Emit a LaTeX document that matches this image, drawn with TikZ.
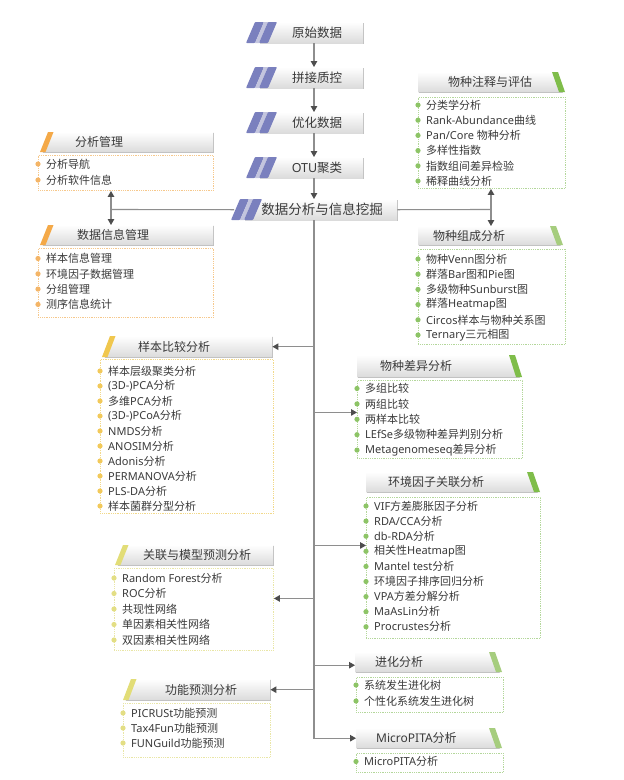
\documentclass[tikz,border=0pt]{standalone}
\usepackage{fontspec}
\setmainfont{Noto Sans}
\newfontfamily\latf{Noto Sans}
\newfontfamily\cjkf{Noto Sans CJK SC}
\XeTeXinterchartokenstate=1
\newXeTeXintercharclass\cjkcls
\newcount\cjkcnt
\cjkcnt="4E00
\loop
  \XeTeXcharclass\cjkcnt=\cjkcls
  \ifnum\cjkcnt<"9FFF \advance\cjkcnt by 1
\repeat
\XeTeXinterchartoks 0 \cjkcls = {\cjkf}
\XeTeXinterchartoks 4095 \cjkcls = {\cjkf}
\XeTeXinterchartoks \cjkcls 0 = {\latf}
\usetikzlibrary{arrows.meta,shadows,calc}
\definecolor{lnc}{HTML}{8E8E8E}
\definecolor{tipc}{HTML}{4D4D4D}
\definecolor{txt}{HTML}{3A3A3A}
\definecolor{blu}{HTML}{7A80BE}
\definecolor{bluL}{HTML}{C3C5DE}
\definecolor{org}{HTML}{F4A948}
\definecolor{orgL}{HTML}{F6C88C}
\definecolor{orgB}{HTML}{F4B567}
\definecolor{gld}{HTML}{F0C74E}
\definecolor{gldL}{HTML}{F2D98A}
\definecolor{gldB}{HTML}{F2C95A}
\definecolor{ylw}{HTML}{E2DD77}
\definecolor{ylwL}{HTML}{E9E6A6}
\definecolor{ylwB}{HTML}{E3DE84}
\definecolor{grn}{HTML}{7FBD4A}
\definecolor{grnP}{HTML}{A6CD7E}
\definecolor{grnL}{HTML}{B4D79B}
\definecolor{grnB}{HTML}{8DC466}
\tikzset{
  hfill/.style={top color=white, bottom color=black!14,
    drop shadow={shadow xshift=0.8pt, shadow yshift=-0.9pt, opacity=0.25, fill=black}},
  lstbox/.style={shape=rectangle, inner sep=0pt, line width=0.9pt, dash pattern=on 0.9pt off 0.9pt, fill=white},
  itm/.style={anchor=west, inner sep=0pt, font=\fontsize{11}{13}\selectfont, text=txt},
  hdt/.style={anchor=west, inner sep=0pt, font=\fontsize{12}{14}\selectfont, text=txt},
  mtxt/.style={inner sep=0pt, font=\fontsize{12.5}{14}\selectfont, text=txt},
  lnk/.style={draw=lnc, line width=1.1pt},
  arr/.style={lnk, -{Triangle[length=6pt,width=6.5pt,color=tipc]}},
  dbl/.style={lnk, {Triangle[length=6pt,width=6.5pt,color=tipc]}-{Triangle[length=6pt,width=6.5pt,color=tipc]}},
  anc/.style={inner sep=0pt, shape=rectangle}
}
% main pipeline box: name, x1, y1, x2, y2, stripe start
\newcommand\mainbox[6]{%
  \node[anc, minimum width={(#4-#2)*1pt}, minimum height={(#5-#3)*1pt}, anchor=north west] (#1) at (#2,#3) {};
  \path[hfill] (#2,#3) rectangle (#4,#5);
  \fill[blu, rounded corners=0.8pt] (#6,#5) -- (#6+9,#5) -- (#6+18,#3) -- (#6+9,#3) -- cycle;
  \fill[bluL] (#6+9,#5) -- (#6+13,#5) -- (#6+22,#3) -- (#6+18,#3) -- cycle;
  \fill[blu, rounded corners=0.8pt] (#6+13,#5) -- (#6+22,#5) -- (#6+31,#3) -- (#6+22,#3) -- cycle;}
% left header: name, x1, y1, x2, y2, colour, text x, text
\newcommand\hdrL[8]{%
  \node[anc, minimum width={(#4-#2)*1pt}, minimum height={(#5-#3)*1pt}, anchor=north west] (#1) at (#2,#3) {};
  \path[hfill] (#2+2,#5) -- (#4,#5) -- (#4,#3) -- (#2+10,#3) -- cycle;
  \fill[#6] (#2,#5) -- (#2+5.5,#5) -- (#2+13.5,#3) -- (#2+8,#3) -- cycle;
  \node[hdt] (#1t) at (#7,{(#3+#5)/2}) {#8};}
% right header
\newcommand\hdrR[8]{%
  \node[anc, minimum width={(#4-#2)*1pt}, minimum height={(#5-#3)*1pt}, anchor=north west] (#1) at (#2,#3) {};
  \path[hfill] (#2,#5) -- (#4-3,#5) -- (#4-10,#3) -- (#2,#3) -- cycle;
  \fill[#6] (#4-6,#5) -- (#4,#5) -- (#4-7,#3) -- (#4-13,#3) -- cycle;
  \node[hdt] (#1t) at (#7,{(#3+#5)/2}) {#8};}
% list: name, x1, y1, x2, y2, scheme, first y, step, items
\newcommand\mklist[9]{%
  \node[lstbox, draw=#6L, minimum width={(#4-#2)*1pt}, minimum height={(#5-#3)*1pt}, anchor=north west] (#1) at (#2,#3) {};
  \foreach \t [count=\i from 0] in {#9} {
    \fill[#6B] (#2,{#7+#8*\i}) circle[radius=2.6];
    \node[itm] (#1-\i) at (#2+8,{#7+#8*\i}) {\t};
  }}
\begin{document}
\begin{tikzpicture}[x=1pt,y=-1pt]
\useasboundingbox (0,0) rectangle (624,780);
\fill[white] (0,0) rectangle (624,780);

% main pipeline
\mainbox{M1}{260}{22}{363}{43}{246}
\node[mtxt] (M1t) at (317,32.5) {原始数据};
\mainbox{M2}{260}{67}{363}{88}{246}
\node[mtxt] (M2t) at (317,77.5) {拼接质控};
\mainbox{M3}{260}{112}{363}{133}{246}
\node[mtxt] (M3t) at (317,122.5) {优化数据};
\mainbox{M4}{260}{157}{363}{178}{246}
\node[mtxt] (M4t) at (317,167.5) {OTU聚类};
\mainbox{M5}{245}{199}{397}{220}{231}
\node[mtxt, font=\fontsize{13.5}{15}\selectfont] (M5t) at (322,209.5) {数据分析与信息挖掘};

% headers
\hdrL{Hanam}{40}{132}{213}{152}{org}{75}{分析管理}
\hdrL{Hdata}{40}{225}{213}{245}{org}{77}{数据信息管理}
\hdrR{Hanno}{418}{72}{565}{92}{grn}{448}{物种注释与评估}
\hdrR{Hcomp}{418}{226}{563}{245}{grnP}{433}{物种组成分析}
\hdrL{Hsamp}{102}{336}{272}{357}{gld}{138}{样本比较分析}
\hdrR{Hdiff}{357}{355}{522}{377}{grn}{380}{物种差异分析}
\hdrR{Henv}{366}{472}{540}{492}{grn}{388}{环境因子关联分析}
\hdrL{Hcorr}{115}{545}{273}{565}{ylw}{143}{关联与模型预测分析}
\hdrR{Hevo}{355}{652}{502}{672}{grnP}{375}{进化分析}
\hdrL{Hfunc}{123}{679}{270}{700}{ylw}{165}{功能预测分析}
\hdrR{Hmicro}{356}{728}{502}{748}{grnP}{376}{MicroPITA分析}

% lists
\mklist{Lanam}{38}{155}{213}{190}{org}{164}{16}{分析导航,分析软件信息}
\mklist{Ldata}{38}{248}{213}{317}{org}{258.5}{15.3}{样本信息管理,环境因子数据管理,分组管理,测序信息统计}
\mklist{Lanno}{418}{97}{565}{188}{grn}{105}{15.2}{分类学分析,Rank-Abundance曲线,Pan/Core 物种分析,多样性指数,指数组间差异检验,稀释曲线分析}
\mklist{Lcomp}{418}{249}{565}{344}{grn}{259}{15.2}{物种Venn图分析,群落Bar图和Pie图,多级物种Sunburst图,群落Heatmap图,Circos样本与物种关系图,Ternary三元相图}
\mklist{Lsamp}{100}{359}{273}{513}{gld}{371}{15}{样本层级聚类分析,{(3D-)PCA分析},多维PCA分析,{(3D-)PCoA分析},NMDS分析,ANOSIM分析,Adonis分析,PERMANOVA分析,PLS-DA分析,样本菌群分型分析}
\mklist{Ldiff}{357}{380}{522}{458}{grn}{388.5}{15.4}{多组比较,两组比较,两样本比较,LEfSe多级物种差异判别分析,Metagenomeseq差异分析}
\mklist{Lenv}{366}{497}{540}{638}{grn}{506}{15.1}{VIF方差膨胀因子分析,RDA/CCA分析,db-RDA分析,相关性Heatmap图,Mantel test分析,环境因子排序回归分析,VPA方差分解分析,MaAsLin分析,Procrustes分析}
\mklist{Lcorr}{114}{568}{273}{650}{ylw}{578}{15.5}{Random Forest分析,ROC分析,共现性网络,单因素相关性网络,双因素相关性网络}
\mklist{Levo}{356}{677}{503}{712}{grn}{685}{16}{系统发生进化树,个性化系统发生进化树}
\mklist{Lfunc}{123}{703}{270}{757}{ylw}{713}{15}{PICRUSt功能预测,Tax4Fun功能预测,FUNGuild功能预测}
\mklist{Lmicro}{356}{753}{503}{772}{grn}{761.5}{15}{MicroPITA分析}

% junction coordinates
\coordinate (t0) at (314,220);
\coordinate (jR) at (491,209.5);
\coordinate (jL) at (111,209.5);
\coordinate (bDiff) at ([yshift=7pt]Ldiff.west);
\coordinate (bEnv) at ([yshift=22.5pt]Lenv.west);
\coordinate (bCorr) at ([yshift=11pt]Lcorr.east);
\coordinate (bEvo) at ([yshift=-3pt]Hevo.west);

% pipeline arrows
\draw[arr] (M1.south -| t0) -- (M2.north -| t0);
\draw[arr] (M2.south -| t0) -- (M3.north -| t0);
\draw[arr] (M3.south -| t0) -- (M4.north -| t0);
\draw[arr] (M4.south -| t0) -- (M5.north -| t0);

% side links
\draw[lnk] (M5.east) -- (jR);
\draw[dbl] (Lanno.south -| jR) -- (Hcomp.north -| jR);
\draw[lnk] ([xshift=-11pt]M5.west) -- (jL);
\draw[dbl] (Lanam.south -| jL) -- (Hdata.north -| jL);

% trunk and branches
\draw[arr] (t0) |- (Hmicro.west);
\draw[arr] (Hsamp.east -| t0) -- (Hsamp.east);
\draw[arr] (bDiff -| t0) -- (bDiff);
\draw[arr] (bEnv -| t0) -- (bEnv);
\draw[arr] (bCorr -| t0) -- (bCorr);
\draw[arr] (bEvo -| t0) -- (bEvo);
\draw[arr] (Hfunc.east -| t0) -- (Hfunc.east);
\end{tikzpicture}
\end{document}
